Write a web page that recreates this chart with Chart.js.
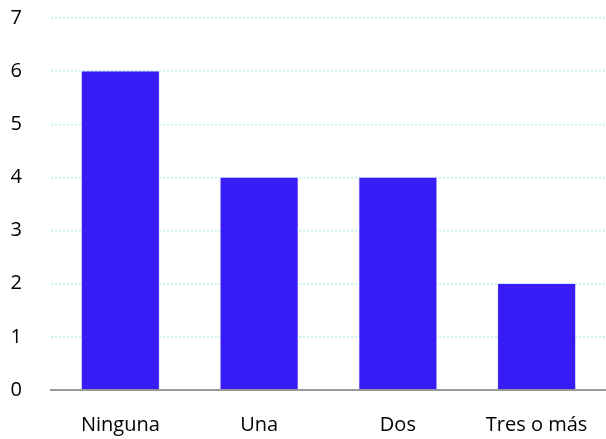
<!DOCTYPE html>
<html>
<head>
<meta charset="utf-8">
<script src="https://cdn.jsdelivr.net/npm/chart.js@4.4.0/dist/chart.umd.min.js"></script>
<style>
  html, body { margin: 0; padding: 0; background: #fff; overflow: hidden; }
  canvas { display: block; }
</style>
</head>
<body>
<canvas id="chart" width="606" height="439"></canvas>
<script>
const categories = ["Ninguna", "Una", "Dos", "Tres o más"];
const values = [6, 4, 4, 2];
const yTicks = [0, 1, 2, 3, 4, 5, 6, 7];

const ctx = document.getElementById("chart").getContext("2d");
const tickFont = { family: "'Open Sans', 'Liberation Sans', sans-serif", size: 20 };

new Chart(ctx, {
  type: "bar",
  data: {
    labels: categories,
    datasets: [{
      data: values,
      backgroundColor: "#381cf8",
      borderColor: "#e8e8ff",
      borderWidth: { left: 1, right: 1, top: 0, bottom: 0 },
      categoryPercentage: 0.57,
      barPercentage: 1.0
    }]
  },
  options: {
    responsive: false,
    animation: false,
    layout: { padding: { top: 18, right: 0, bottom: 0, left: 0 } },
    plugins: { legend: { display: false }, tooltip: { enabled: false } },
    scales: {
      x: {
        afterFit: (s) => { s.height = 49; s.paddingLeft = 0; s.paddingRight = 0; },
        grid: { display: false, drawTicks: false },
        border: { display: true, color: "#9a9a9a", width: 2 },
        ticks: { padding: 23, color: "#000", font: tickFont }
      },
      y: {
        min: 0,
        max: 7,
        afterBuildTicks: (s) => { s.ticks = yTicks.map(v => ({ value: v })); },
        afterFit: (s) => { s.width = 51; s.paddingTop = 0; s.paddingBottom = 0; },
        grid: {
          color: (c) => c.tick && c.tick.value === 0 ? "rgba(0,0,0,0)" : "#b8f2f4",
          lineWidth: 1.5,
          drawTicks: false
        },
        border: { display: false, dash: [2, 2] },
        ticks: { padding: 29, color: "#000", font: tickFont }
      }
    }
  }
});
</script>
</body>
</html>
